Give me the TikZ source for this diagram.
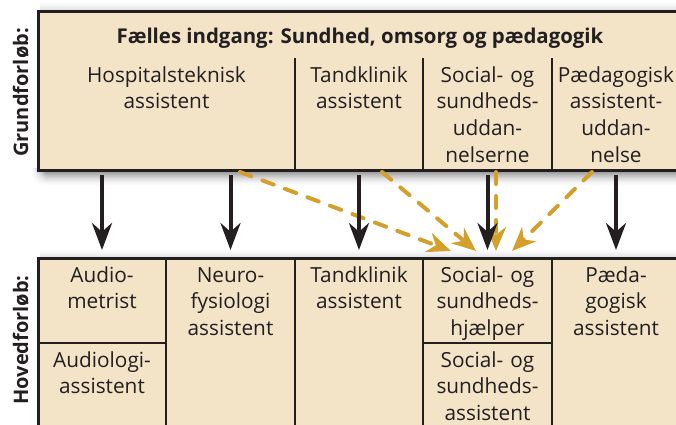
\documentclass[tikz,border=0pt]{standalone}
\usepackage{fontspec}
\setmainfont{Open Sans}
\usetikzlibrary{arrows.meta}
\definecolor{boxfill}{HTML}{F3E4C8}
\definecolor{gold}{HTML}{D4A02B}
\definecolor{ink}{HTML}{231F20}
\begin{document}
\begin{tikzpicture}[x=1pt,y=-1pt,
  cell/.style={rectangle, draw=ink, fill=boxfill, line width=2.5pt, inner sep=0pt, outer sep=0pt},
  area/.style={rectangle, inner sep=0pt, outer sep=0pt},
  txt/.style={anchor=base, align=center, text width=200pt, inner sep=0pt, text=ink,
              font=\fontsize{20.8}{26.7}\selectfont},
  hdr/.style={anchor=base, inner sep=0pt, text=ink, font=\fontsize{20.4}{24}\selectfont\bfseries},
  side/.style={anchor=base, rotate=90, inner sep=0pt, text=ink, font=\fontsize{20}{24}\selectfont\bfseries},
  blk/.style={draw=ink, line width=4pt, -{Stealth[length=27pt, width=20pt]}, shorten <=5pt, shorten >=8pt},
  gld/.style={draw=gold, line width=4pt, line cap=round, dash pattern=on 12pt off 12pt,
              -{Stealth[length=24pt, width=20pt]}}
]
\useasboundingbox (0,0) rectangle (676,424);
% soft shadows built from thin strips
\foreach \i in {0,...,17}{
  \pgfmathsetmacro{\shd}{58*(1-\i/18)^1.7}
  \fill[black!\shd] (46,168+\i) rectangle (676,169.2+\i);
  \foreach \j in {0,...,13}{
    \pgfmathsetmacro{\shdj}{\shd*((\j+1)/15)^1.3}
    \fill[black!\shdj] (32+\j,168+\i) rectangle (33.2+\j,169.2+\i);
  }
}
\foreach \i in {0,...,8}{
  \pgfmathsetmacro{\shd}{12*(1-\i/9)^1.5}
  \fill[black!\shd] (40,11-\i) rectangle (676,9.8-\i);
  \fill[black!\shd] (40,258-\i) rectangle (676,256.8-\i);
}

% top box
\node[cell, line width=3pt, minimum width=642pt, minimum height=159pt] (topbox) at (359,90.5) {};
\node[area, minimum width=257pt, minimum height=112pt] (hospC) at (166.5,114) {};
\node[area, minimum width=128pt, minimum height=112pt] (tandC) at (359,114) {};
\node[area, minimum width=129pt, minimum height=112pt] (socC) at (487.5,114) {};
\node[area, minimum width=128pt, minimum height=112pt] (paedC) at (616,114) {};
\draw[draw=ink, line width=2.5pt] (hospC.north east) -- (hospC.south east);
\draw[draw=ink, line width=2.5pt] (tandC.north east) -- (tandC.south east);
\draw[draw=ink, line width=2.5pt] (socC.north east) -- (socC.south east);
\draw[draw=ink, line width=3pt] (topbox.south west) -- (topbox.south east);

% bottom cells
\node[cell, minimum width=128pt, minimum height=85pt] (audC) at (102,300.5) {};
\node[cell, minimum width=128pt, minimum height=97pt] (audlC) at (102,391.5) {};
\node[cell, minimum width=129pt, minimum height=182pt] (neuC) at (230.5,349) {};
\node[cell, minimum width=128pt, minimum height=182pt] (tandBC) at (359,349) {};
\node[cell, minimum width=129pt, minimum height=85pt] (sshC) at (487.5,300.5) {};
\node[cell, minimum width=129pt, minimum height=97pt] (ssaC) at (487.5,391.5) {};
\node[cell, minimum width=128pt, minimum height=182pt] (paedBC) at (616,349) {};
\draw[draw=ink, line width=3pt] (audC.north west) -- (paedBC.north east);
\draw[draw=ink, line width=3pt] (audC.north west) -- (audlC.south west);

% texts
\node[hdr] (hdr) at (360,43) {Fælles indgang: Sundhed, omsorg og pædagogik};
\node[txt] (hospT) at (166.5,82) {Hospitalsteknisk\\assistent};
\node[txt] (tandT) at (359,82) {Tandklinik\\assistent};
\node[txt] (socT) at (487.5,82) {Social- og\\sundheds-\\uddan-\\nelserne};
\node[txt] (paedT) at (616,82) {Pædagogisk\\assistent-\\uddan-\\nelse};

\node[txt] (audT) at (102,282) {Audio-\\metrist};
\node[txt] (audlT) at (102,367) {Audiologi-\\assistent};
\node[txt] (neuT) at (230.5,282) {Neuro-\\fysiologi\\assistent};
\node[txt] (tandBT) at (359,282) {Tandklinik\\assistent};
\node[txt] (sshT) at (487.5,282) {Social- og\\sundheds-\\hjælper};
\node[txt] (ssaT) at (487.5,367) {Social- og\\sundheds-\\assistent};
\node[txt] (paedBT) at (616,282) {Pæda-\\gogisk\\assistent};

\node[side] (grund) at (28,92.5) {Grundforløb:};
\node[side] (hoved) at (28,340) {Hovedforløb:};

% gold dashed arrows
\coordinate (g1a) at (240,172);
\coordinate (g1b) at (451,251);
\coordinate (g2a) at (382,172);
\coordinate (g2b) at (476,251);
\coordinate (g3a) at (496,172);
\coordinate (g3b) at (496,251);
\coordinate (g4a) at (592,172);
\coordinate (g4b) at (512,251);
\draw[gld] (g1a) -- (g1b);
\draw[gld] (g2a) -- (g2b);
\draw[gld] (g3a) -- (g3b);
\draw[gld] (g4a) -- (g4b);

% black arrows
\draw[blk] (hospC.south -| audC.north) -- (audC.north);
\draw[blk] (hospC.south -| neuC.north) -- (neuC.north);
\draw[blk] (tandC.south) -- (tandBC.north);
\draw[blk] (socC.south) -- (sshC.north);
\draw[blk] (paedC.south) -- (paedBC.north);
\end{tikzpicture}
\end{document}
